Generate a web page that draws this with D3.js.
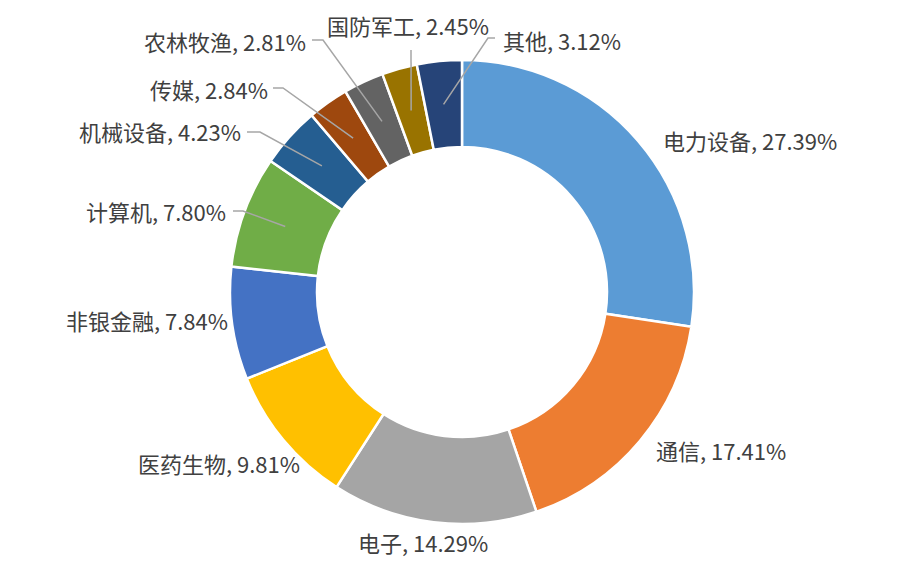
<!DOCTYPE html>
<html><head><meta charset="utf-8">
<script src="https://cdn.jsdelivr.net/npm/d3@7"></script>
<style>
html,body{margin:0;padding:0;background:#fff;}
text{font-family:"Noto Sans CJK SC","Noto Sans",sans-serif;}
</style></head>
<body>
<svg id="chart" width="923" height="585"></svg>
<script>
const categories = ["电力设备","通信","电子","医药生物","非银金融","计算机","机械设备","传媒","农林牧渔","国防军工","其他"];
const values = [27.39,17.41,14.29,9.81,7.84,7.80,4.23,2.84,2.81,2.45,3.12];
const colors = ["#5B9BD5","#ED7D31","#A5A5A5","#FFC000","#4472C4","#70AD47","#255E91","#9E480E","#636363","#997300","#264478"];

// label layout (anchor, x, y) and optional leader-line elbow points
const labelLayout = [
  {a:"start", x:663, y:142},
  {a:"start", x:656, y:452},
  {a:"start", x:358, y:544},
  {a:"end",   x:300, y:465},
  {a:"end",   x:228, y:322},
  {a:"end",   x:226, y:213, leader:[[243,211],[233,211]]},
  {a:"end",   x:241, y:133, leader:[[260,132],[247,132]]},
  {a:"end",   x:268, y:91,  leader:[[283,88],[273,88]]},
  {a:"end",   x:306, y:43,  leader:[[323,40],[312,40]]},
  {a:"start", x:327, y:27,  leader:[[411,50]]},
  {a:"start", x:503, y:42,  leader:[[488,38],[495,38]]}
];

const cx = 462, cy = 292, rOuter = 232, rInner = 145;
const svg = d3.select("#chart");
const g = svg.append("g").attr("transform", `translate(${cx},${cy})`);

const data = categories.map((c,i)=>({name:c, value:values[i], color:colors[i], lay:labelLayout[i]}));
const pie = d3.pie().value(d=>d.value).sort(null);
const arc = d3.arc().innerRadius(rInner).outerRadius(rOuter);
const arcs = pie(data);

g.selectAll("path.slice").data(arcs).join("path")
  .attr("class","slice")
  .attr("d", arc)
  .attr("fill", d=>d.data.color)
  .attr("stroke","#fff")
  .attr("stroke-width",2.5);

// leader lines
arcs.forEach(d=>{
  if(!d.data.lay.leader) return;
  const c = arc.centroid(d);
  const pts = [[c[0]+cx, c[1]+cy], ...d.data.lay.leader];
  svg.append("path")
    .attr("d", d3.line()(pts))
    .attr("fill","none")
    .attr("stroke","#A6A6A6")
    .attr("stroke-width",1.5);
});

svg.selectAll("text.lbl").data(data).join("text")
  .attr("class","lbl")
  .attr("x", d=>d.lay.x)
  .attr("y", d=>d.lay.y)
  .attr("dy","0.35em")
  .attr("text-anchor", d=>d.lay.a)
  .attr("font-size", 22)
  .attr("fill","#404040")
  .text(d=>`${d.name}, ${d.value.toFixed(2)}%`);
</script>
</body></html>
